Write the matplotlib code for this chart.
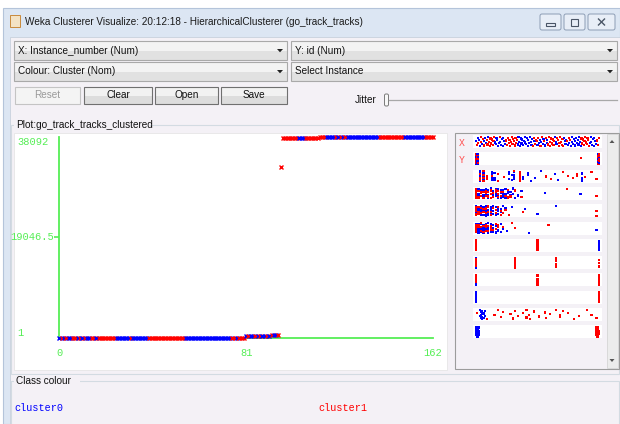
import numpy as np
import matplotlib.pyplot as plt
from matplotlib.patches import Rectangle, Polygon, FancyBboxPatch

W, H = 620, 424
GUI_FONT = 'Liberation Sans'
GUI_SIZE = 7.2
MONO = 'Liberation Mono'
BLUE = '#0000ff'
RED = '#ff0000'
GREEN = '#55ee55'

# ---- main scatter: X = Instance_number, Y = id, colour = cluster ----
track_id = [
    1, 2, 3, 4, 8, 10, 11, 12, 13, 14,
    15, 16, 17, 18, 19, 20, 21, 22, 23, 24,
    25, 27, 28, 29, 30, 31, 32, 33, 34, 35,
    36, 37, 38, 39, 40, 41, 42, 43, 44, 45,
    46, 47, 48, 49, 50, 51, 52, 53, 54, 55,
    56, 57, 58, 59, 60, 61, 62, 63, 64, 65,
    66, 67, 68, 69, 70, 71, 72, 73, 74, 75,
    76, 77, 78, 79, 80, 81, 82, 83, 84, 85,
    86,
    402, 410, 417, 421, 433, 438, 446, 451, 459, 463, 470, 478, 482, 491, 497,
    32462,
    37961, 37963, 37965, 37968, 37970, 37972, 37975, 37977, 37979, 37982,
    37984, 37986, 37989, 37991, 37993, 37996, 37998, 38000, 38003, 38005,
    38007, 38010, 38012, 38014, 38017, 38019, 38021, 38024, 38026, 38028,
    38031, 38033, 38035, 38038, 38040, 38042, 38045, 38047, 38049, 38052,
    38054, 38056, 38059, 38061, 38063, 38066, 38068, 38070, 38073, 38075,
    38077, 38079, 38080, 38082, 38083, 38084, 38086, 38087, 38088, 38089,
    38090, 38090, 38091, 38091, 38092, 38092,
]
cluster = [int(c) for c in (
    "01010011010100110" "11111111" "00000010000000" "1111111111111111"
    "00000000000000000000" "110111" "010010100101001" "1"
    "1111111" "000" "111111111" "0000" "101010" "0000000000000"
    "11111111111" "000000000" "1111"
)]
instance = np.arange(len(track_id))

x_ticks = [0, 81, 162]
y_ticks = [1, 19046.5, 38092]
y_tick_labels = ['1', '19046.5', '38092']

# ---- attribute strips on the right: (value position, n cluster0, n cluster1) ----
strip_id_android = [
    (0.03, 6, 3), (0.06, 5, 4), (0.09, 0, 2), (0.13, 6, 1), (0.15, 3, 0), (0.18, 0, 2),
    (0.23, 0, 1), (0.27, 3, 0), (0.29, 2, 0), (0.31, 4, 1), (0.36, 1, 7), (0.38, 2, 0),
    (0.42, 2, 0), (0.45, 1, 0), (0.48, 1, 0), (0.53, 1, 0), (0.57, 0, 1), (0.61, 0, 1),
    (0.64, 1, 0), (0.67, 1, 0), (0.71, 0, 1), (0.75, 0, 1), (0.79, 0, 1), (0.82, 0, 2),
    (0.86, 5, 0), (0.89, 0, 1), (0.94, 0, 1), (0.98, 0, 1),
]
strip_speed = [
    (0.00, 3, 6), (0.02, 3, 3), (0.04, 2, 3), (0.06, 3, 2), (0.08, 2, 3), (0.10, 3, 2),
    (0.12, 1, 3), (0.14, 2, 2), (0.16, 3, 2), (0.18, 3, 3), (0.20, 3, 2), (0.22, 4, 1),
    (0.24, 3, 1), (0.26, 2, 2), (0.28, 2, 1), (0.30, 2, 0), (0.32, 1, 1), (0.34, 1, 0),
    (0.37, 1, 1), (0.56, 1, 0), (0.74, 0, 1), (0.85, 1, 0), (0.98, 0, 1),
]
strip_time = [
    (0.00, 4, 6), (0.02, 3, 3), (0.04, 4, 2), (0.06, 3, 2), (0.08, 4, 3), (0.10, 2, 2),
    (0.12, 3, 2), (0.14, 3, 1), (0.16, 2, 2), (0.18, 3, 1), (0.20, 2, 2), (0.22, 1, 1),
    (0.24, 1, 1), (0.27, 0, 1), (0.29, 1, 0), (0.38, 0, 1), (0.40, 1, 0), (0.50, 1, 0),
    (0.65, 1, 0), (0.98, 0, 2),
]
strip_distance = [
    (0.00, 4, 6), (0.02, 4, 2), (0.04, 3, 3), (0.06, 4, 2), (0.08, 3, 3), (0.10, 4, 2),
    (0.12, 2, 3), (0.14, 3, 1), (0.16, 2, 2), (0.18, 1, 2), (0.20, 2, 0), (0.22, 1, 1),
    (0.25, 1, 0), (0.29, 0, 1), (0.32, 0, 1), (0.43, 1, 0), (0.59, 0, 1), (0.98, 1, 0),
]
strip_rating = [(0.00, 0, 30), (0.50, 20, 10), (1.00, 30, 0)]
strip_rating_bus = [(0.00, 30, 6), (0.32, 0, 20), (0.65, 0, 7), (1.00, 0, 4)]
strip_rating_weather = [(0.00, 30, 5), (0.50, 0, 8), (1.00, 0, 40)]
strip_car_or_bus = [(0.00, 60, 0), (1.00, 0, 60)]
strip_linha = [
    (0.03, 2, 0), (0.04, 3, 0), (0.05, 4, 0), (0.06, 3, 0), (0.07, 2, 0),
    (0.005, 0, 1), (0.087, 0, 1), (0.15, 0, 1), (0.18, 0, 1), (0.20, 0, 1), (0.22, 0, 1),
    (0.28, 0, 1), (0.30, 0, 1), (0.32, 0, 1), (0.34, 0, 1), (0.38, 0, 1), (0.41, 0, 2),
    (0.43, 0, 1), (0.44, 0, 1), (0.47, 0, 1), (0.51, 0, 1), (0.56, 0, 1), (0.57, 0, 1),
    (0.60, 0, 1), (0.65, 0, 1), (0.68, 0, 2), (0.71, 0, 1), (0.75, 0, 1), (0.80, 0, 1),
    (0.84, 0, 1), (0.90, 0, 1), (0.94, 0, 1), (0.98, 0, 1),
]

# vertical jitter used inside the strips (weka jitters points in each strip)
JITTER = [0.52, 0.18, 0.81, 0.35, 0.66, 0.09, 0.44, 0.90, 0.27, 0.73,
          0.58, 0.13, 0.85, 0.39, 0.62, 0.22, 0.95, 0.48, 0.05, 0.77,
          0.31, 0.69, 0.15, 0.56, 0.88, 0.41, 0.25, 0.79, 0.61, 0.07,
          0.36, 0.93, 0.46, 0.20, 0.72, 0.11, 0.84, 0.54, 0.29, 0.64]
WIGGLE = [0.0, 0.008, 0.016, 0.022, 0.016, 0.008, 0.0, 0.006, 0.014, 0.02]


def px_rect(x0, y0, x1, y1):
    return [x0 / W, 1 - y1 / H, (x1 - x0) / W, (y1 - y0) / H]


fig = plt.figure(figsize=(6.2, 4.24), dpi=100)
fig.patch.set_facecolor('white')
bg = fig.add_axes([0, 0, 1, 1])
bg.set_xlim(0, W)
bg.set_ylim(H, 0)
bg.axis('off')

CONTENT = '#f4f1f6'
# window frame + title bar
bg.add_patch(Rectangle((3, 8), W - 3, H - 8, fc='#dce6f3', ec='#b4c4da', lw=0.8))
bg.add_patch(Rectangle((10, 37), W - 10, H - 37, fc=CONTENT, ec='#c8d1dd', lw=0.6))
bg.add_patch(Rectangle((10, 15), 10, 12, fc='#f3e2c4', ec='#c98a3c', lw=0.7))
bg.text(25, 22, 'Weka Clusterer Visualize: 20:12:18 - HierarchicalClusterer (go_track_tracks)',
        fontsize=GUI_SIZE, family=GUI_FONT, va='center', color='#1a1a1a')
for (x0, x1) in [(540, 561), (564, 585), (588, 615)]:
    bg.add_patch(FancyBboxPatch((x0, 14), x1 - x0, 16, boxstyle='round,pad=0,rounding_size=2',
                                fc='#e8eef7', ec='#8c9db5', lw=0.7))
bg.add_patch(Rectangle((546, 23), 9, 2.5, fc='none', ec='#4a5566', lw=0.8))
bg.add_patch(Rectangle((571, 18.5), 7, 7, fc='none', ec='#4a5566', lw=0.8))
bg.plot([598.5, 604.5], [19, 25], color='#4a5566', lw=1.0)
bg.plot([598.5, 604.5], [25, 19], color='#4a5566', lw=1.0)


def combo(x0, y0, x1, y1, label):
    cy = (y0 + y1) / 2
    bg.add_patch(Rectangle((x0, y0), x1 - x0, cy - y0, fc='#f3f3f3', ec='none'))
    bg.add_patch(Rectangle((x0, cy), x1 - x0, y1 - cy, fc='#e1e1e1', ec='none'))
    bg.add_patch(Rectangle((x0, y0), x1 - x0, y1 - y0, fc='none', ec='#a9a9a9', lw=0.8))
    bg.text(x0 + 4, cy, label, fontsize=GUI_SIZE, family=GUI_FONT, va='center', color='#111111')
    bg.add_patch(Polygon([(x1 - 10, cy - 1.5), (x1 - 4, cy - 1.5), (x1 - 7, cy + 1.8)],
                         fc='#222222', ec='none'))


combo(14, 41, 287, 60, 'X: Instance_number (Num)')
combo(291, 41, 617, 60, 'Y: id (Num)')
combo(14, 62, 287, 81, 'Colour: Cluster (Nom)')
combo(291, 62, 617, 81, 'Select Instance')


def button(x0, x1, label, enabled=True):
    y0, y1 = 87, 104
    cy = (y0 + y1) / 2
    if enabled:
        bg.add_patch(Rectangle((x0, y0), x1 - x0, cy - y0, fc='#f2f2f2', ec='none'))
        bg.add_patch(Rectangle((x0, cy), x1 - x0, y1 - cy, fc='#dddddd', ec='none'))
        bg.add_patch(Rectangle((x0, y0), x1 - x0, y1 - y0, fc='none', ec='#707070', lw=0.8))
        col = '#111111'
    else:
        bg.add_patch(Rectangle((x0, y0), x1 - x0, y1 - y0, fc='#f4f4f4', ec='#c4c4c4', lw=0.8))
        col = '#9a9a9a'
    bg.text((x0 + x1) / 2, cy, label, fontsize=GUI_SIZE, family=GUI_FONT,
            ha='center', va='center', color=col)


button(15, 80, 'Reset', enabled=False)
button(84, 152, 'Clear')
button(155, 218, 'Open')
button(221, 287, 'Save')

bg.text(355, 100, 'Jitter', fontsize=GUI_SIZE, family=GUI_FONT, va='center', color='#111111')
bg.plot([389, 617], [100, 100], color='#a8a8a8', lw=0.9)
bg.add_patch(FancyBboxPatch((384.5, 94), 4, 12, boxstyle='round,pad=0,rounding_size=1.5',
                            fc='#f8f8f8', ec='#7a7a7a', lw=0.7))

# titled borders
GROUP = '#d3dbe2'
bg.add_patch(Rectangle((11, 125), 608, 249, fc='none', ec=GROUP, lw=0.8))
bg.add_patch(Rectangle((14, 119), 136, 11, fc=CONTENT, ec='none'))
bg.text(16, 125, 'Plot:go_track_tracks_clustered', fontsize=GUI_SIZE, family=GUI_FONT,
        va='center', color='#111111')
bg.add_patch(Rectangle((11, 381), 608, 50, fc='none', ec=GROUP, lw=0.8))
bg.add_patch(Rectangle((14, 375), 66, 11, fc=CONTENT, ec='none'))
bg.text(16, 381, 'Class colour', fontsize=GUI_SIZE, family=GUI_FONT, va='center', color='#111111')

# plot canvas + attribute panel frames
bg.add_patch(Rectangle((14, 133), 433, 237, fc='white', ec='#e6e6e6', lw=0.6))
bg.add_patch(Rectangle((455, 133), 164, 236, fc=CONTENT, ec='#9c9c9c', lw=0.8))
bg.add_patch(Rectangle((607, 134), 11, 234, fc='#ececec', ec='#d0d0d0', lw=0.5))
bg.add_patch(Polygon([(609.5, 143), (614.5, 143), (612, 140)], fc='#555555', ec='none'))
bg.add_patch(Polygon([(609.5, 359), (614.5, 359), (612, 362)], fc='#555555', ec='none'))
bg.text(462, 143, 'X', fontsize=7, family=MONO, va='center', ha='center', color='#ff5050')
bg.text(462, 160, 'Y', fontsize=7, family=MONO, va='center', ha='center', color='#ff5050')

# legend
bg.text(14, 408, 'cluster0', fontsize=7.3, family=MONO, va='center', color=BLUE)
bg.text(318, 408, 'cluster1', fontsize=7.3, family=MONO, va='center', color=RED)

# ---- main plot ----
ax = fig.add_axes(px_rect(59.3, 137, 433, 338))
ax.set_xlim(0, 162)
ax.set_ylim(1, 38092)
ax.patch.set_alpha(0)
for s in ['top', 'right']:
    ax.spines[s].set_visible(False)
for s in ['left', 'bottom']:
    ax.spines[s].set_color(GREEN)
    ax.spines[s].set_linewidth(1.3)
colors = [BLUE if c == 0 else RED for c in cluster]
for xi, yi, ci in zip(instance, track_id, colors):
    ax.plot(xi, yi, marker='x', ms=3.3, mew=1.0, color=ci, ls='none', clip_on=False, zorder=3)

# end labels as ticks, the long middle label placed right-aligned next to its tick
ax.set_yticks([y_ticks[0], y_ticks[2]])
ax.set_yticklabels([y_tick_labels[0], y_tick_labels[2]])
ax.annotate(y_tick_labels[1], xy=(0, y_ticks[1]), xycoords=('axes fraction', 'data'),
            xytext=(-3.5, 0), textcoords='offset points', ha='right', va='center',
            fontsize=7.5, family=MONO, color=GREEN)
ax.set_xticks(x_ticks)
ax.set_xticklabels([str(v) for v in x_ticks])
ax.tick_params(axis='both', which='major', length=0, colors=GREEN, labelsize=7.5)
ax.tick_params(axis='y', pad=30)
ax.tick_params(axis='x', pad=7)
for lab in ax.get_yticklabels() + ax.get_xticklabels():
    lab.set_family(MONO)
ylabs = ax.get_yticklabels()
for lab in ylabs:
    lab.set_horizontalalignment('left')
ylabs[0].set_verticalalignment('bottom')
ylabs[1].set_verticalalignment('top')
ax.set_yticks([y_ticks[1]], minor=True)
ax.set_xticks([x_ticks[1]], minor=True)
ax.tick_params(which='minor', length=3.5, width=1.2, color=GREEN)

# ---- attribute strips ----
y_ext = max(track_id) - min(track_id)
strip_instance = [(i / instance[-1], c) for i, c in zip(instance, cluster)]
strip_id = [((v - min(track_id)) / y_ext, c) for v, c in zip(track_id, cluster)]
strip_cluster = [(c * 0.975, c) for c in cluster]


def expand(spec):
    pts = []
    for x, nb, nr in spec:
        pts += [(x, 0)] * nb + [(x, 1)] * nr
    return pts


strips = [strip_instance, strip_id, expand(strip_id_android), expand(strip_speed),
          expand(strip_time), expand(strip_distance), expand(strip_rating),
          expand(strip_rating_bus), expand(strip_rating_weather), expand(strip_car_or_bus),
          expand(strip_linha), strip_cluster]

for k, pts in enumerate(strips):
    top = 135 + 17.3 * k
    sax = fig.add_axes(px_rect(473, top, 602, top + 13))
    sax.set_xlim(-0.025, 1.025)
    sax.set_ylim(0, 1)
    sax.set_xticks([])
    sax.set_yticks([])
    for s in sax.spines.values():
        s.set_visible(False)
    xs = np.array([p[0] for p in pts], dtype=float)
    cs = [BLUE if p[1] == 0 else RED for p in pts]
    ys = np.array([JITTER[(j + 7 * k) % len(JITTER)] for j in range(len(pts))])
    if k == len(strips) - 1:
        xs = xs + np.array([WIGGLE[j % len(WIGGLE)] for j in range(len(pts))])
    ys = 0.08 + 0.84 * ys
    sax.scatter(xs, ys, s=2.4, c=cs, marker='s', linewidths=0, clip_on=False)

fig.savefig('out.png', dpi=100, facecolor='white')
